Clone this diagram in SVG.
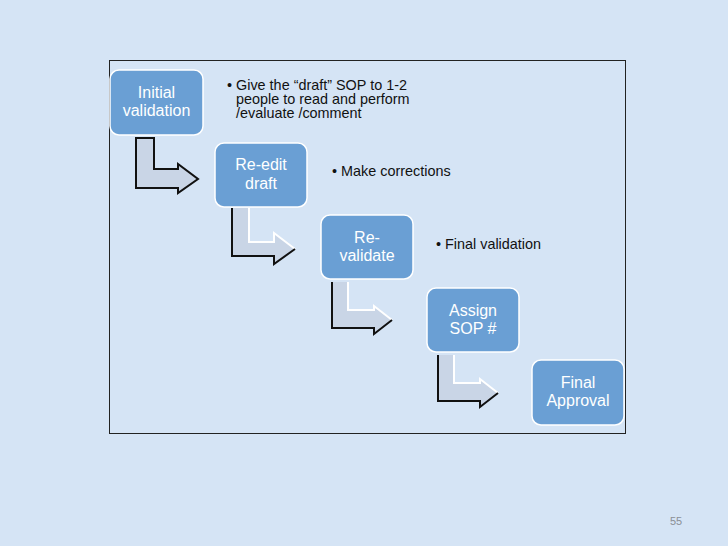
<svg xmlns="http://www.w3.org/2000/svg" width="728" height="546" viewBox="0 0 728 546">
<defs>
<style>
.bg{fill:#d5e4f5}
.frame{fill:none;stroke:#222;stroke-width:1}
.box{fill:#6a9fd4;stroke:#fff;stroke-width:1.5}
.lbl{font-family:"Liberation Sans",Arial,sans-serif;font-size:16px;fill:#fff;text-anchor:middle}
.bul{font-family:"Liberation Sans",Arial,sans-serif;font-size:14.4px;fill:#111}
.afill{fill:#c9d5e6}
.adark{fill:none;stroke:#111;stroke-width:2;stroke-linejoin:miter}
.alight{fill:none;stroke:#fff;stroke-width:2}
.pg{font-family:"Liberation Sans",Arial,sans-serif;font-size:11px;fill:#8a8f96}
</style>
</defs>
<rect class="bg" x="0" y="0" width="728" height="546"/>
<rect class="frame" x="109.5" y="60.5" width="516" height="373"/>

<g id="connectors">
<g id="arrow1">
<polygon class="afill" points="136,138 154,138 154,169 178,169 178,164 198,179 178,193 178,188 136,188"/>
<polygon class="adark" points="136,138 154,138 154,169 178,169 178,164 198,179 178,193 178,188 136,188"/>
</g>
<g id="arrow2">
<polygon class="afill" points="232,208 249,208 249,242 274,242 274,233 295,249 274,264 274,256 232,256"/>
<polyline class="alight" points="249,208 249,242 274,242 274,233 295,249"/>
<polyline class="adark" points="232,208 232,256 274,256 274,264 295,249"/>
</g>
<g id="arrow3">
<polygon class="afill" points="332,282 348,282 348,310 374,310 374,306 392,320 374,334 374,328 332,328"/>
<polyline class="alight" points="348,282 348,310 374,310 374,306 392,320"/>
<polyline class="adark" points="332,282 332,328 374,328 374,334 392,320"/>
</g>
<g id="arrow4">
<polygon class="afill" points="438,355 454,355 454,383 480,383 480,379 498,393 480,407 480,401 438,401"/>
<polyline class="alight" points="454,355 454,383 480,383 480,379 498,393"/>
<polyline class="adark" points="438,355 438,401 480,401 480,407 498,393"/>
</g>
</g>

<g id="node1">
<rect class="box" x="110" y="70" width="93" height="65" rx="9"/>
<text class="lbl" x="156.5" y="98">Initial</text>
<text class="lbl" x="156.5" y="116">validation</text>
</g>
<g id="node2">
<rect class="box" x="215" y="143" width="92" height="64" rx="9"/>
<text class="lbl" x="261" y="170">Re-edit</text>
<text class="lbl" x="261" y="189">draft</text>
</g>
<g id="node3">
<rect class="box" x="321" y="215" width="92" height="64" rx="9"/>
<text class="lbl" x="367" y="243">Re-</text>
<text class="lbl" x="367" y="261">validate</text>
</g>
<g id="node4">
<rect class="box" x="427" y="288" width="92" height="64" rx="9"/>
<text class="lbl" x="473" y="316">Assign</text>
<text class="lbl" x="473" y="334">SOP #</text>
</g>
<g id="node5">
<rect class="box" x="532" y="360" width="92" height="65" rx="9"/>
<text class="lbl" x="578" y="388">Final</text>
<text class="lbl" x="578" y="406">Approval</text>
</g>

<g id="notes">
<text class="bul" x="227" y="90">• Give the “draft” SOP to 1-2</text>
<text class="bul" x="236" y="104">people to read and perform</text>
<text class="bul" x="236" y="118">/evaluate /comment</text>
<text class="bul" x="332" y="176">• Make corrections</text>
<text class="bul" x="436" y="249">• Final validation</text>
</g>

<text class="pg" x="670" y="525">55</text>
</svg>
